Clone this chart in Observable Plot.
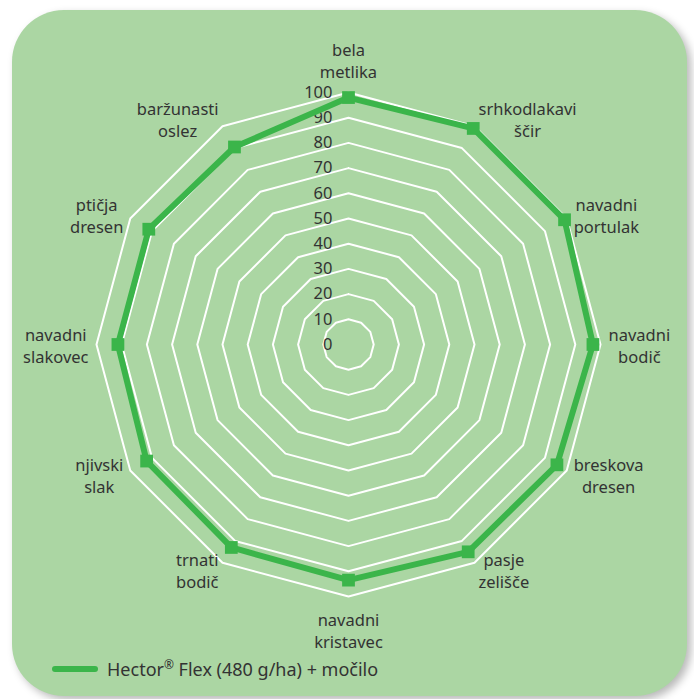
<!DOCTYPE html>
<html>
<head>
<meta charset="utf-8">
<script src="https://cdn.jsdelivr.net/npm/d3@7"></script>
<script src="https://cdn.jsdelivr.net/npm/@observablehq/plot@0.6"></script>
<style>
  html, body { margin: 0; padding: 0; background: #ffffff; }
  #wrap { position: relative; width: 694px; height: 699px; overflow: hidden; }
  #panel { position: absolute; left: 12px; top: 10px; width: 675px; height: 686px;
           background: #abd6a3; border-radius: 52px; box-shadow: 4px 4px 8px rgba(0,0,0,0.28); }
  #chart { position: absolute; left: 0; top: 0; }
  #legend { position: absolute; left: 52px; top: 656px; display: flex; align-items: center;
            font-family: "Noto Sans", sans-serif; font-size: 18px; color: #333; }
  #legend .sw { width: 46px; height: 6px; border-radius: 3px; background: #3bb54a; margin-right: 9px; }
  #legend sup { font-size: 12px; }
</style>
</head>
<body>
<div id="wrap">
  <div id="panel"></div>
  <div id="chart"></div>
  <div id="legend"></div>
</div>
<script>
// ---- data ----
const categories = [
  "bela\nmetlika", "srhkodlakavi\nščir", "navadni\nportulak", "navadni\nbodič",
  "breskova\ndresen", "pasje\nzelišče", "navadni\nkristavec", "trnati\nbodič",
  "njivski\nslak", "navadni\nslakovec", "ptičja\ndresen", "baržunasti\noslez"
];
const values = [98, 99, 99, 97, 95.5, 95, 93.5, 93, 92.5, 91.5, 91.5, 90.5];
const ringLevels = [10, 20, 30, 40, 50, 60, 70, 80, 90, 100];
const tickLabels = [0, 10, 20, 30, 40, 50, 60, 70, 80, 90, 100];
const seriesName = "Hector";
const seriesNameRest = " Flex (480 g/ha) + močilo";

// ---- layout ----
const W = 694, H = 699, cx = 348, cy = 344, R = 252;
const k = R / 100;
const green = "#3bb54a";
const font = "'Noto Sans', sans-serif";
const n = categories.length;
const ang = i => (i % n) * 2 * Math.PI / n;

const rings = ringLevels.flatMap(l => d3.range(n + 1).map(i => ({
  level: l, x: l * Math.sin(ang(i)), y: l * Math.cos(ang(i))
})));
const seriesLine = d3.range(n + 1).map(i => ({
  x: values[i % n] * Math.sin(ang(i)), y: values[i % n] * Math.cos(ang(i))
}));
const seriesPts = seriesLine.slice(0, n);

const labelSize = 16.5;
const ctx = document.createElement("canvas").getContext("2d");
ctx.font = `${labelSize}px 'Noto Sans'`;
const RL = 260;
const labels = categories.map((c, i) => {
  const s = Math.sin(ang(i)), co = Math.cos(ang(i));
  const hw = d3.max(c.split("\n"), t => ctx.measureText(t).width) / 2;
  const px = RL * s + (Math.abs(s) > 0.01 ? Math.sign(s) * hw : 0);
  const py = -RL * co - (Math.abs(s) < 0.01 ? Math.sign(co) * 25 : 0);
  return { text: c, x: px / k, y: -py / k };
});

const plot = Plot.plot({
  width: W, height: H, margin: 0,
  style: { background: "transparent", fontFamily: font },
  x: { type: "linear", domain: [-100, 100], range: [cx - R, cx + R], axis: null },
  y: { type: "linear", domain: [-100, 100], range: [cy + R, cy - R], axis: null },
  marks: [
    Plot.line(rings, { x: "x", y: "y", z: "level", stroke: "#ffffff", strokeWidth: 2 }),
    Plot.text(tickLabels, { x: () => 0, y: d => d, text: d => String(d), textAnchor: "end",
      dx: -16, fontSize: 16.5, fill: "#333333" }),
    Plot.line(seriesLine, { x: "x", y: "y", stroke: green, strokeWidth: 6, strokeLinejoin: "miter" }),
    Plot.dot(seriesPts, { x: "x", y: "y", symbol: "square", r: 7.2, fill: green, stroke: null }),
    Plot.text(labels, { x: "x", y: "y", text: "text", textAnchor: "middle", lineAnchor: "middle",
      lineHeight: 1.33, fontSize: labelSize, fill: "#333333" })
  ]
});
document.getElementById("chart").appendChild(plot);

const legend = document.getElementById("legend");
legend.innerHTML = `<div class="sw"></div><span>${seriesName}<sup>®</sup>${seriesNameRest}</span>`;
</script>
</body>
</html>
